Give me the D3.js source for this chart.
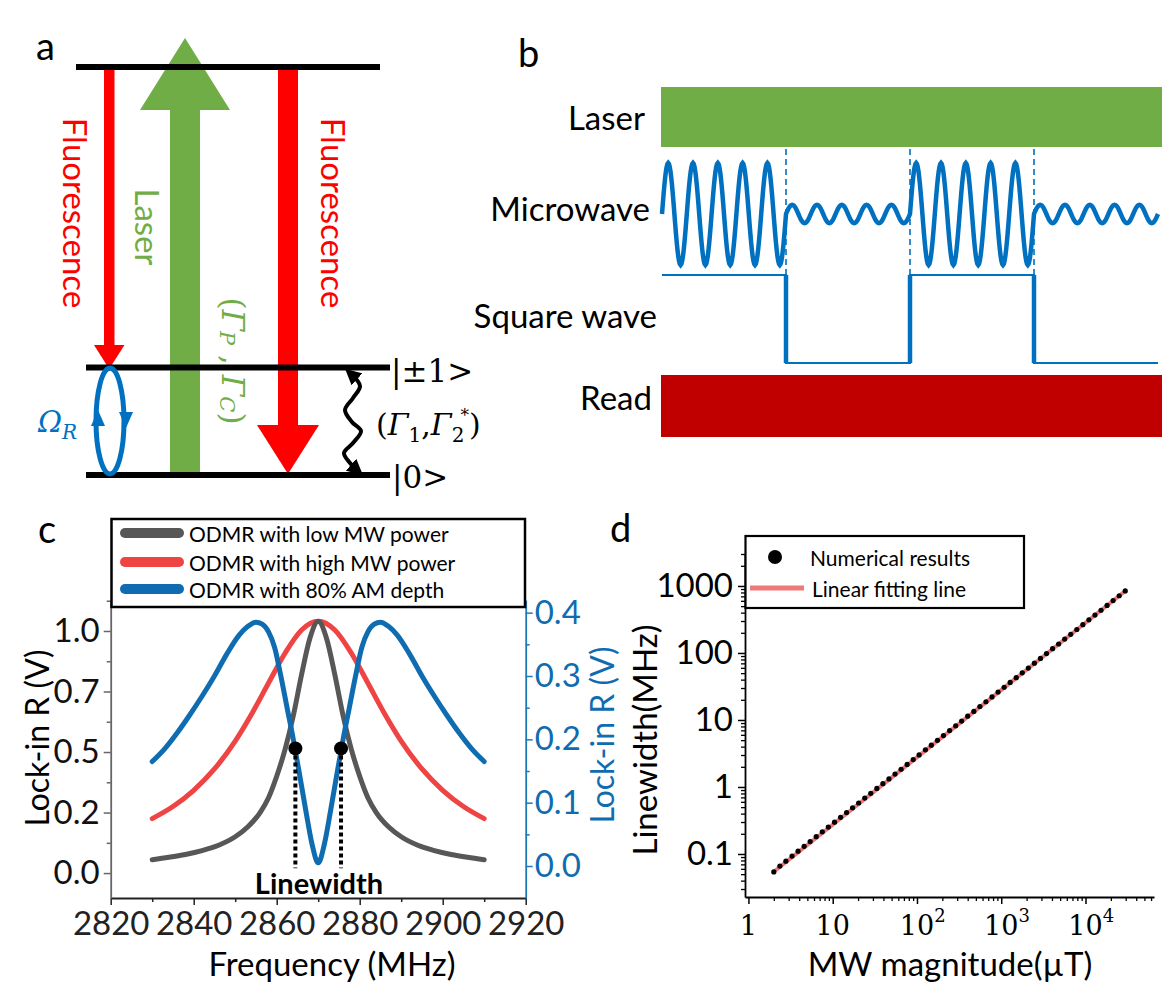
<!DOCTYPE html>
<html>
<head>
<meta charset="utf-8">
<script src="https://cdn.jsdelivr.net/npm/d3@7"></script>
<style>
  body { margin: 0; background: #fff; }
  svg { display: block; }
</style>
</head>
<body>
<div id="chart"></div>
<script>
// ---------- data ----------
// panel b : pulse sequence (time in units of one AM half-period)
const mwSegStart = [0, 1, 2, 3];
const mwSegAmp = [1, 0.18, 1, 0.18];
const mwCycles = 5;
const sqLevel = [1, 0, 1, 0];
const dashTimes = [1, 2, 3];
const seqLabels = ["Laser", "Microwave", "Square wave", "Read"];

// panel c : ODMR curves
const lowFreq = [2830, 2834, 2838, 2842, 2846, 2850, 2853, 2856, 2858, 2860, 2862, 2864, 2866, 2868, 2870,
  2872, 2874, 2876, 2878, 2880, 2882, 2884, 2887, 2890, 2894, 2898, 2902, 2906, 2910];
const lowVal = [0.055, 0.065, 0.077, 0.093, 0.115, 0.15, 0.19, 0.25, 0.31, 0.40, 0.51, 0.65, 0.82, 0.97, 1.04,
  0.97, 0.82, 0.65, 0.51, 0.40, 0.31, 0.25, 0.19, 0.15, 0.115, 0.093, 0.077, 0.065, 0.055];
const highFreq = [2830, 2835, 2840, 2845, 2850, 2854, 2858, 2862, 2866, 2870, 2874, 2878, 2882, 2886, 2890, 2895, 2900, 2905, 2910];
const highVal = [0.225, 0.275, 0.342, 0.43, 0.545, 0.658, 0.784, 0.908, 1.004, 1.04, 1.004, 0.908, 0.784, 0.658, 0.545, 0.43, 0.342, 0.275, 0.225];
const amFreq = [2830, 2833, 2836, 2839, 2842, 2845, 2848, 2851, 2853, 2855, 2856.5, 2858, 2859.5, 2861, 2862.5, 2864, 2865.5, 2867, 2868.5, 2870,
  2871.5, 2873, 2874.5, 2876, 2877.5, 2879, 2880.5, 2882, 2883.5, 2885, 2887, 2889, 2892, 2895, 2898, 2901, 2904, 2907, 2910];
const amVal = [0.165, 0.185, 0.21, 0.238, 0.268, 0.30, 0.335, 0.365, 0.378, 0.385, 0.382, 0.37, 0.345, 0.30, 0.25, 0.20, 0.145, 0.088, 0.035, 0.005,
  0.035, 0.088, 0.145, 0.20, 0.25, 0.30, 0.345, 0.37, 0.382, 0.385, 0.378, 0.365, 0.335, 0.30, 0.268, 0.238, 0.21, 0.185, 0.165];
const halfMaxFreq = [2864.5, 2875.5];
const halfMaxVal = 0.515;
const cSeriesNames = ["ODMR with low MW power", "ODMR with high MW power", "ODMR with 80% AM depth"];
const cXTicks = [2820, 2840, 2860, 2880, 2900, 2920];
const cLeftTicks = [0, 0.25, 0.5, 0.75, 1.0];
const cLeftLabels = ["0.0", "0.2", "0.5", "0.7", "1.0"];
const cRightTicks = [0, 0.1, 0.2, 0.3, 0.4];

// panel d : linewidth vs MW magnitude
const mwField = [2.00, 2.36, 2.78, 3.29, 3.88, 4.58, 5.40, 6.37, 7.52, 8.87, 10.5, 12.4, 14.6, 17.2, 20.3, 24.0, 28.3, 33.4, 39.4, 46.5,
  54.9, 64.8, 76.4, 90.2, 106, 126, 148, 175, 206, 244, 288, 339, 400, 473, 558, 658, 777, 917, 1082, 1276,
  1506, 1777, 2097, 2475, 2920, 3446, 4066, 4798, 5661, 6680, 7883, 9302, 10976, 12952, 15283, 18034, 21280, 25110, 29630];
const linewidth = [0.054, 0.066, 0.078, 0.093, 0.110, 0.130, 0.153, 0.181, 0.214, 0.252, 0.298, 0.352, 0.415, 0.489, 0.577, 0.682, 0.805, 0.950, 1.12, 1.32,
  1.56, 1.84, 2.17, 2.56, 3.01, 3.58, 4.21, 4.97, 5.86, 6.94, 8.19, 9.64, 11.4, 13.4, 15.9, 18.7, 22.1, 26.1, 30.8, 36.3,
  42.8, 50.5, 59.6, 70.4, 83.0, 98.0, 116, 136, 161, 190, 224, 264, 312, 368, 434, 513, 605, 714, 842];
const fitField = [1.95, 29630];
const fitWidth = [0.053, 842];
const dXTicks = [1, 10, 100, 1000, 10000];
const dXTickBase = ["1", "10", "10", "10", "10"];
const dXTickExp = ["", "", "2", "3", "4"];
const dYTicks = [0.1, 1, 10, 100, 1000];
const dYLabels = ["0.1", "1", "10", "100", "1000"];

// ---------- setup ----------
const W = 1168, H = 1007;
const SANS = "Lato, 'Open Sans', sans-serif";
const SERIF = "'DejaVu Serif', 'Liberation Serif', serif";
const GREEN = "#70ad47", RED = "#ff0000", BLUE = "#0070c0";
const C_GRAY = "#575757", C_RED = "#ef4444", C_BLUE = "#0f6cb0";

const svg = d3.select("#chart").append("svg")
  .attr("width", W).attr("height", H)
  .style("background", "#fff");

const panelLetter = (x, y, t) => svg.append("text")
  .attr("x", x).attr("y", y).attr("font-family", SANS).attr("font-size", 38).text(t);

panelLetter(36, 60, "a");
panelLetter(518, 67, "b");
panelLetter(38, 543, "c");
panelLetter(610, 542, "d");

// ---------- panel a : level diagram ----------
const gA = svg.append("g");
gA.append("rect").attr("x", 170).attr("y", 108).attr("width", 30).attr("height", 365).attr("fill", GREEN);
gA.append("polygon").attr("points", "140,110 230,110 185,38").attr("fill", GREEN);
gA.append("rect").attr("x", 104).attr("y", 69).attr("width", 10.5).attr("height", 278).attr("fill", RED);
gA.append("polygon").attr("points", "94,345 124.5,345 109.2,369").attr("fill", RED);
gA.append("rect").attr("x", 278).attr("y", 69).attr("width", 20).attr("height", 358).attr("fill", RED);
gA.append("polygon").attr("points", "257,425 319,425 288,474").attr("fill", RED);

[[76, 380, 67], [86, 390, 367.5], [86, 390, 475]].forEach(([x1, x2, y]) => {
  gA.append("line").attr("x1", x1).attr("x2", x2).attr("y1", y).attr("y2", y)
    .attr("stroke", "#000").attr("stroke-width", 6);
});

gA.append("ellipse").attr("cx", 110).attr("cy", 421).attr("rx", 14).attr("ry", 53)
  .attr("fill", "none").attr("stroke", BLUE).attr("stroke-width", 5);
gA.append("polygon").attr("points", "91,426 105,426 98,410").attr("fill", BLUE);
gA.append("polygon").attr("points", "119,412 133,412 126,428").attr("fill", BLUE);

// wavy relaxation arrow
const defs = svg.append("defs");
defs.append("marker").attr("id", "ah").attr("viewBox", "0 0 10 10")
  .attr("refX", 5).attr("refY", 5).attr("markerWidth", 4).attr("markerHeight", 4)
  .attr("orient", "auto-start-reverse")
  .append("path").attr("d", "M0,0 L10,5 L0,10 z").attr("fill", "#000");
const wavy = [[351, 374], [360, 386], [353, 398], [345, 410], [351.7, 421.7], [361, 431], [353, 443], [344, 453], [350, 463], [357, 470]];
gA.append("path").attr("d", d3.line().curve(d3.curveCatmullRom)(wavy))
  .attr("fill", "none").attr("stroke", "#000").attr("stroke-width", 4)
  .attr("marker-start", "url(#ah)").attr("marker-end", "url(#ah)");

const rotText = (x, y, txt, color) => gA.append("text")
  .attr("transform", `translate(${x},${y}) rotate(90)`)
  .attr("text-anchor", "middle").attr("dominant-baseline", "central")
  .attr("font-family", SANS).attr("font-size", 33).attr("fill", color).text(txt);
rotText(76, 213, "Fluorescence", RED);
rotText(334, 213, "Fluorescence", RED);
rotText(148, 227, "Laser", GREEN);

const gam = gA.append("text")
  .attr("transform", "translate(233,361) rotate(90)")
  .attr("text-anchor", "middle").attr("dominant-baseline", "central")
  .attr("font-family", SERIF).attr("font-size", 31).attr("fill", GREEN);
gam.append("tspan").text("(");
gam.append("tspan").attr("font-style", "italic").text("Γ");
gam.append("tspan").attr("font-style", "italic").attr("font-size", 21).attr("dy", 6).text("P");
gam.append("tspan").attr("dy", -6).text(" , ");
gam.append("tspan").attr("font-style", "italic").text("Γ");
gam.append("tspan").attr("font-style", "italic").attr("font-size", 21).attr("dy", 6).text("C");
gam.append("tspan").attr("dy", -6).text(")");

const om = gA.append("text").attr("x", 38).attr("y", 432)
  .attr("font-family", SERIF).attr("font-size", 29).attr("fill", BLUE);
om.append("tspan").attr("font-style", "italic").text("Ω");
om.append("tspan").attr("font-style", "italic").attr("font-size", 20).attr("dy", 7).text("R");

gA.append("text").attr("x", 391).attr("y", 382).attr("font-family", SERIF).attr("font-size", 31).text("|±1>");
gA.append("text").attr("x", 392).attr("y", 488).attr("font-family", SERIF).attr("font-size", 31).text("|0>");
const rel = gA.append("text").attr("x", 376).attr("y", 435).attr("font-family", SERIF).attr("font-size", 30);
rel.append("tspan").text("(");
rel.append("tspan").attr("font-style", "italic").text("Γ");
rel.append("tspan").attr("font-size", 20).attr("dy", 7).text("1");
rel.append("tspan").attr("dy", -7).text(",");
rel.append("tspan").attr("font-style", "italic").text("Γ");
rel.append("tspan").attr("font-size", 20).attr("dy", 7).text("2");
rel.append("tspan").attr("font-size", 17).attr("dx", -4).attr("dy", -21).text("*");
rel.append("tspan").attr("dy", 14).text(")");

// ---------- panel b : sequence ----------
const gB = svg.append("g");
const xB = d3.scaleLinear().domain([0, 4]).range([662, 1158]);
const yMW = d3.scaleLinear().domain([-1, 1]).range([265, 163]);
const ySq = d3.scaleLinear().domain([0, 1]).range([363, 275]);

gB.append("rect").attr("x", 661).attr("y", 87).attr("width", 501).attr("height", 60).attr("fill", GREEN);
gB.append("rect").attr("x", 661).attr("y", 375).attr("width", 501).attr("height", 62).attr("fill", "#c00000");

const labY = [117, 208, 315, 397];
const labX = [645, 650, 657, 652];
seqLabels.forEach((t, i) => gB.append("text").attr("x", labX[i]).attr("y", labY[i])
  .attr("text-anchor", "end").attr("dominant-baseline", "central")
  .attr("font-family", SANS).attr("font-size", 33).text(t));

dashTimes.forEach(t => gB.append("line")
  .attr("x1", xB(t)).attr("x2", xB(t)).attr("y1", 149).attr("y2", 275)
  .attr("stroke", BLUE).attr("stroke-width", 1.6).attr("stroke-dasharray", "6,4"));

const mwPts = [];
mwSegStart.forEach((t0, i) => {
  const n = 160;
  for (let k = 0; k <= n; k++) {
    const t = t0 + k / n;
    mwPts.push([xB(t), yMW(mwSegAmp[i] * Math.sin(2 * Math.PI * mwCycles * (t - t0)))]);
  }
});
gB.append("path").attr("d", d3.line()(mwPts))
  .attr("fill", "none").attr("stroke", BLUE).attr("stroke-width", 4.5);

const sqPts = [];
mwSegStart.forEach((t0, i) => { sqPts.push([xB(t0), ySq(sqLevel[i])]); sqPts.push([xB(t0 + 1), ySq(sqLevel[i])]); });
gB.append("path").attr("d", d3.line()(sqPts))
  .attr("fill", "none").attr("stroke", BLUE).attr("stroke-width", 2.2);
dashTimes.forEach(t => gB.append("line")
  .attr("x1", xB(t)).attr("x2", xB(t)).attr("y1", ySq(0)).attr("y2", ySq(1))
  .attr("stroke", BLUE).attr("stroke-width", 4.5));

// ---------- panel c : ODMR ----------
const gC = svg.append("g");
const xC = d3.scaleLinear().domain([2820, 2920]).range([110.7, 525.7]);
const yL = d3.scaleLinear().domain([-0.103, 1.128]).range([898, 600]);
const yR = d3.scaleLinear().domain([-0.0505, 0.42]).range([898, 600]);

const styleAxis = (g, color, size) => {
  g.select(".domain").attr("stroke", color).attr("stroke-width", 1.8);
  g.selectAll(".tick line").attr("stroke", color).attr("stroke-width", 1.5);
  g.selectAll("text").attr("font-family", SANS).attr("font-size", size).attr("fill", color);
};

const cxAxis = gC.append("g").attr("transform", "translate(0,898)")
  .call(d3.axisBottom(xC).tickValues(cXTicks).tickFormat(d3.format("d")).tickSize(7).tickSizeOuter(0).tickPadding(7));
styleAxis(cxAxis, "#222", 33);
const cxMinor = gC.append("g").attr("transform", "translate(0,898)")
  .call(d3.axisBottom(xC).tickValues([2830, 2850, 2870, 2890, 2910]).tickSize(4).tickFormat(""));
cxMinor.select(".domain").remove();
cxMinor.selectAll("line").attr("stroke", "#222").attr("stroke-width", 1.5);

const clAxis = gC.append("g").attr("transform", "translate(110.7,0)")
  .call(d3.axisLeft(yL).tickValues(cLeftTicks).tickFormat((d, i) => cLeftLabels[i]).tickSize(7).tickSizeOuter(0).tickPadding(4));
styleAxis(clAxis, "#111", 33);
clAxis.select(".domain").attr("stroke", "#666");
clAxis.selectAll(".tick line").attr("stroke", "#666");
const clMinor = gC.append("g").attr("transform", "translate(110.7,0)")
  .call(d3.axisLeft(yL).tickValues([0.125, 0.375, 0.625, 0.875, 1.125]).tickSize(4).tickFormat(""));
clMinor.select(".domain").remove();
clMinor.selectAll("line").attr("stroke", "#666").attr("stroke-width", 1.5);

const crAxis = gC.append("g").attr("transform", "translate(525.7,0)")
  .call(d3.axisRight(yR).tickValues(cRightTicks).tickFormat(d3.format(".1f")).tickSize(7).tickSizeOuter(0).tickPadding(2));
styleAxis(crAxis, "#1f78b8", 33);
crAxis.selectAll("text").attr("fill", C_BLUE);
const crMinor = gC.append("g").attr("transform", "translate(525.7,0)")
  .call(d3.axisRight(yR).tickValues([0.05, 0.15, 0.25, 0.35]).tickSize(4).tickFormat(""));
crMinor.select(".domain").remove();
crMinor.selectAll("line").attr("stroke", "#1f78b8").attr("stroke-width", 1.5);

gC.append("text").attr("transform", "translate(36,738) rotate(-90)")
  .attr("text-anchor", "middle").attr("dominant-baseline", "central")
  .attr("font-family", SANS).attr("font-size", 32).text("Lock-in R (V)");
gC.append("text").attr("transform", "translate(601,735) rotate(-90)")
  .attr("text-anchor", "middle").attr("dominant-baseline", "central")
  .attr("font-family", SANS).attr("font-size", 32).attr("fill", C_BLUE).text("Lock-in R (V)");
gC.append("text").attr("x", 332).attr("y", 963)
  .attr("text-anchor", "middle").attr("dominant-baseline", "central")
  .attr("font-family", SANS).attr("font-size", 33).text("Frequency (MHz)");

const lineL = (fx, fy) => d3.line().x((d, i) => xC(fx[i])).y(d => yL(d)).curve(d3.curveMonotoneX);
const lineR = d3.line().x((d, i) => xC(amFreq[i])).y(d => yR(d)).curve(d3.curveMonotoneX);
gC.append("path").attr("d", lineL(highFreq)(highVal)).attr("fill", "none").attr("stroke", C_RED).attr("stroke-width", 5).attr("stroke-linecap", "round");
gC.append("path").attr("d", lineL(lowFreq)(lowVal)).attr("fill", "none").attr("stroke", C_GRAY).attr("stroke-width", 5).attr("stroke-linecap", "round");
gC.append("path").attr("d", lineR(amVal)).attr("fill", "none").attr("stroke", C_BLUE).attr("stroke-width", 5).attr("stroke-linecap", "round");

halfMaxFreq.forEach(f => {
  gC.append("line").attr("x1", xC(f)).attr("x2", xC(f)).attr("y1", yL(halfMaxVal)).attr("y2", yL(0.02))
    .attr("stroke", "#000").attr("stroke-width", 4).attr("stroke-dasharray", "4,3");
  gC.append("circle").attr("cx", xC(f)).attr("cy", yL(halfMaxVal)).attr("r", 7).attr("fill", "#000");
});
gC.append("text").attr("x", 319).attr("y", 882)
  .attr("text-anchor", "middle").attr("dominant-baseline", "central")
  .attr("font-family", SANS).attr("font-weight", "bold").attr("font-size", 29).text("Linewidth");

// legend c
gC.append("rect").attr("x", 111.5).attr("y", 519).attr("width", 413.5).attr("height", 88)
  .attr("fill", "#fff").attr("stroke", "#000").attr("stroke-width", 2.5);
const cColors = [C_GRAY, C_RED, C_BLUE];
const legY = [533, 562, 589];
cSeriesNames.forEach((n, i) => {
  gC.append("line").attr("x1", 125).attr("x2", 179).attr("y1", legY[i]).attr("y2", legY[i])
    .attr("stroke", cColors[i]).attr("stroke-width", 10).attr("stroke-linecap", "round");
  gC.append("text").attr("x", 189).attr("y", legY[i]).attr("dominant-baseline", "central")
    .attr("font-family", SANS).attr("font-size", 21).text(n);
});

// ---------- panel d : linewidth ----------
const gD = svg.append("g");
const xD = d3.scaleLog().domain([0.91, 65000]).range([745, 1154]);
const yD = d3.scaleLog().domain([0.0228, 3000]).range([897, 554]);

const minorX = [], minorY = [];
for (let e = 0; e <= 4; e++) for (let k = 2; k <= 9; k++) { const v = k * Math.pow(10, e); if (v <= 65000) minorX.push(v); }
for (let e = -2; e <= 3; e++) for (let k = 2; k <= 9; k++) { const v = k * Math.pow(10, e); if (v >= 0.0228 && v <= 3000) minorY.push(v); }

const dxAxis = gD.append("g").attr("transform", "translate(0,897)")
  .call(d3.axisBottom(xD).tickValues(dXTicks).tickSize(7).tickSizeOuter(0).tickFormat(""));
dxAxis.select(".domain").attr("stroke", "#000").attr("stroke-width", 1.8);
dxAxis.selectAll("line").attr("stroke", "#000").attr("stroke-width", 1.5);
const dxMinor = gD.append("g").attr("transform", "translate(0,897)")
  .call(d3.axisBottom(xD).tickValues(minorX).tickSize(4).tickFormat(""));
dxMinor.select(".domain").remove();
dxMinor.selectAll("line").attr("stroke", "#000").attr("stroke-width", 1.3);

const dyAxis = gD.append("g").attr("transform", "translate(745,0)")
  .call(d3.axisLeft(yD).tickValues(dYTicks).tickFormat((d, i) => dYLabels[i]).tickSize(7).tickSizeOuter(0).tickPadding(5));
dyAxis.select(".domain").attr("stroke", "#000").attr("stroke-width", 1.8);
dyAxis.selectAll("line").attr("stroke", "#000").attr("stroke-width", 1.5);
dyAxis.selectAll("text").attr("font-family", SANS).attr("font-size", 33).attr("fill", "#000");
const dyMinor = gD.append("g").attr("transform", "translate(745,0)")
  .call(d3.axisLeft(yD).tickValues(minorY).tickSize(4).tickFormat(""));
dyMinor.select(".domain").remove();
dyMinor.selectAll("line").attr("stroke", "#000").attr("stroke-width", 1.3);

dXTicks.forEach((v, i) => {
  const t = gD.append("text").attr("y", 935).attr("font-family", SERIF).attr("font-size", 27);
  t.append("tspan").text(dXTickBase[i]);
  const w = t.node().getComputedTextLength();
  t.attr("x", xD(v) - w / 2);
  if (dXTickExp[i]) t.append("tspan").attr("font-size", 18).attr("dy", -13).text(dXTickExp[i]);
});

gD.append("text").attr("transform", "translate(644,740) rotate(-90)")
  .attr("text-anchor", "middle").attr("dominant-baseline", "central")
  .attr("font-family", SANS).attr("font-size", 33).text("Linewidth(MHz)");
gD.append("text").attr("x", 950).attr("y", 963)
  .attr("text-anchor", "middle").attr("dominant-baseline", "central")
  .attr("font-family", SANS).attr("font-size", 33).text("MW magnitude(\u00b5T)");

gD.append("path").attr("d", d3.line().x((d, i) => xD(fitField[i])).y(d => yD(d))(fitWidth))
  .attr("fill", "none").attr("stroke", "#f07878").attr("stroke-width", 4);
gD.selectAll("circle.pt").data(linewidth).join("circle").attr("class", "pt")
  .attr("cx", (d, i) => xD(mwField[i])).attr("cy", d => yD(d)).attr("r", 2.6).attr("fill", "#000");

// legend d
gD.append("rect").attr("x", 745.5).attr("y", 536).attr("width", 278.5).attr("height", 72)
  .attr("fill", "#fff").attr("stroke", "#000").attr("stroke-width", 2.2);
gD.append("circle").attr("cx", 775).attr("cy", 557).attr("r", 7).attr("fill", "#000");
gD.append("text").attr("x", 810).attr("y", 557).attr("dominant-baseline", "central")
  .attr("font-family", SANS).attr("font-size", 21).text("Numerical results");
gD.append("line").attr("x1", 750).attr("x2", 804).attr("y1", 588).attr("y2", 588)
  .attr("stroke", "#f07878").attr("stroke-width", 5);
gD.append("text").attr("x", 812).attr("y", 588).attr("dominant-baseline", "central")
  .attr("font-family", SANS).attr("font-size", 21).text("Linear fitting line");
</script>
</body>
</html>
